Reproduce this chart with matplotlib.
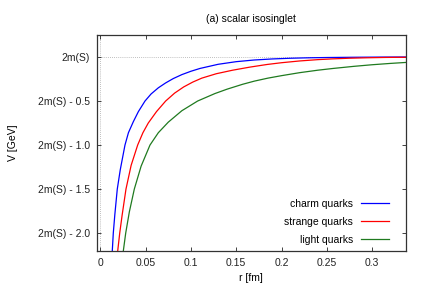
import matplotlib
matplotlib.use("Agg")
import matplotlib.pyplot as plt

plt.rcParams['font.family'] = ['Liberation Sans', 'DejaVu Sans']

# values (r in fm, V relative to 2m(S) in GeV)
r_charm = [0.0132, 0.0143, 0.016, 0.0187, 0.022, 0.0272, 0.031, 0.0364, 0.042, 0.0493,
           0.056, 0.064, 0.072, 0.0805, 0.09, 0.10, 0.11, 0.13, 0.15, 0.17,
           0.19, 0.21, 0.23, 0.25, 0.28, 0.31, 0.337]
v_charm = [-2.2, -2.0, -1.79, -1.5, -1.28, -1.0, -0.86, -0.735, -0.62, -0.5,
           -0.42, -0.35, -0.295, -0.245, -0.2, -0.162, -0.13, -0.083, -0.053, -0.034,
           -0.022, -0.014, -0.009, -0.006, -0.003, -0.001, 0.0]

r_strange = [0.0192, 0.0214, 0.024, 0.0283, 0.034, 0.0412, 0.047, 0.0529, 0.062, 0.0721,
             0.082, 0.092, 0.102, 0.112, 0.128, 0.146, 0.165, 0.184, 0.20, 0.22,
             0.24, 0.257, 0.275, 0.294, 0.315, 0.337]
v_strange = [-2.2, -2.0, -1.80, -1.5, -1.23, -1.0, -0.86, -0.75, -0.62, -0.5,
             -0.41, -0.34, -0.285, -0.24, -0.19, -0.15, -0.115, -0.085, -0.065, -0.045,
             -0.03, -0.021, -0.014, -0.009, -0.005, -0.003]

r_light = [0.0254, 0.028, 0.032, 0.0375, 0.045, 0.0548, 0.064, 0.075, 0.09, 0.1074,
           0.1265, 0.14, 0.157, 0.17, 0.185, 0.20, 0.22, 0.24, 0.257, 0.28,
           0.30, 0.32, 0.337]
v_light = [-2.2, -2.0, -1.76, -1.5, -1.24, -1.0, -0.86, -0.74, -0.61, -0.5,
           -0.415, -0.365, -0.31, -0.274, -0.24, -0.212, -0.178, -0.15, -0.13, -0.106,
           -0.088, -0.073, -0.062]

xticks = [0, 0.05, 0.1, 0.15, 0.2, 0.25, 0.3]
xticklabels = ['0', '0.05', '0.1', '0.15', '0.2', '0.25', '0.3']
yticks = [0, -0.5, -1.0, -1.5, -2.0]
yticklabels = ['2m(S)', '2m(S) - 0.5', '2m(S) - 1.0', '2m(S) - 1.5', '2m(S) - 2.0']

fig = plt.figure(figsize=(4.27, 2.99), dpi=100)
ax = fig.add_axes([0.2265, 0.1615, 0.7235, 0.7215])

# dotted zero lines like gnuplot's zeroaxis
ax.axhline(0, color='#aaaaaa', lw=0.6, ls=(0, (1, 1.5)), zorder=1)
ax.axvline(0, color='#aaaaaa', lw=0.6, ls=(0, (1, 1.5)), zorder=1)

ax.plot(r_charm, v_charm, color='#0000ff', lw=0.9, label='charm quarks')
ax.plot(r_strange, v_strange, color='#ff0000', lw=0.9, label='strange quarks')
ax.plot(r_light, v_light, color='#1f7a1f', lw=0.9, label='light quarks')

ax.set_xlim(-0.004, 0.337)
ax.set_ylim(-2.2, 0.25)
ax.set_xticks(xticks)
ax.set_xticklabels(xticklabels)
ax.set_yticks(yticks)
ax.set_yticklabels(yticklabels)
ax.tick_params(direction='in', length=3, width=0.6, top=True, right=True,
               labelsize=7.5, pad=5, colors='#222222')
for s in ax.spines.values():
    s.set_linewidth(0.9)
    s.set_color('#333333')

ax.set_xlabel('r [fm]', fontsize=7.5, labelpad=4)
ax.set_ylabel('V [GeV]', fontsize=7.5, labelpad=14)
ax.set_title('(a) scalar isosinglet', fontsize=7.5, pad=9)

ax.legend(loc='lower right', frameon=False, markerfirst=False, fontsize=7.5,
          handlelength=2.6, labelspacing=0.75, borderaxespad=0.8,
          bbox_to_anchor=(0.985, -0.03))

fig.savefig('out.png', dpi=100)
